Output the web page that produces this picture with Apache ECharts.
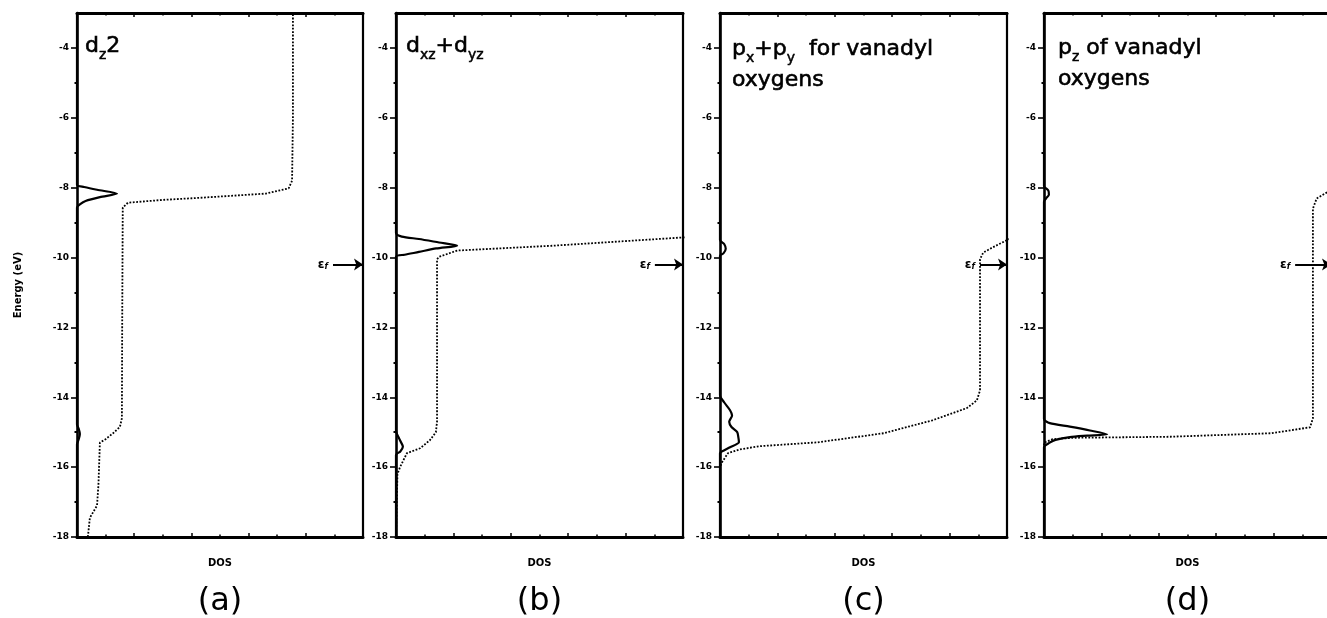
<!DOCTYPE html>
<html><head><meta charset="utf-8">
<script src="https://cdn.jsdelivr.net/npm/echarts@6/dist/echarts.min.js"></script>
<style>html,body{margin:0;padding:0;background:#fff}#c{width:1327px;height:618px}</style>
</head><body><div id="c"></div>
<script>
// ---- data ----
const energyMin = -18, energyMax = -3;
const dosMin = 0, dosMax = 10;
const yMajorTicks = [-18, -16, -14, -12, -10, -8, -6, -4];
const yMinorTicks = [-17, -15, -13, -11, -9, -7, -5];
const fermiEnergy = -10.2;
const fermiArrowStart = [8.95, 9.02, 9.06, 8.75];
const panelLetters = ['(a)', '(b)', '(c)', '(d)'];
const panelTitles = [
  '{n|d}{s|z}{n|2}',
  '{n|d}{s|xz}{n|+d}{s|yz}',
  '{n|p}{s|x}{n|+p}{s|y}{n|  for vanadyl}\n{n|oxygens}',
  '{n|p}{s|z}{n| of vanadyl}\n{n|oxygens}'
];
const xAxisName = 'DOS';
const yAxisName = 'Energy (eV)';

// [DOS, energy] pairs: solid = projected DOS, dotted = integrated DOS
const aSolid = [[0,-18],[0,-15.35],[0.06,-15.2],[0.1,-15.05],[0.06,-14.9],[0,-14.78],[0,-8.57],[0.1,-8.48],[0.3,-8.38],[0.8,-8.27],[1.4,-8.17],[0.7,-8.06],[0.25,-7.98],[0,-7.92],[0,-3]];
const aDotted = [[0.38,-18],[0.45,-17.45],[0.7,-17.1],[0.75,-16.5],[0.8,-15.3],[1.0,-15.2],[1.26,-15.03],[1.5,-14.85],[1.57,-14.6],[1.58,-12],[1.6,-8.57],[1.78,-8.43],[3.0,-8.35],[4.3,-8.29],[6.6,-8.17],[7.4,-8.02],[7.52,-7.8],[7.55,-6],[7.55,-3]];
const bSolid = [[0,-18],[0,-15.65],[0.15,-15.55],[0.24,-15.42],[0.12,-15.2],[0,-14.95],[0,-9.98],[0.3,-9.92],[0.8,-9.84],[1.4,-9.74],[2.13,-9.66],[1.5,-9.57],[0.8,-9.47],[0.2,-9.4],[0,-9.3],[0,-3]];
const bDotted = [[0,-18],[0.05,-16.2],[0.14,-16.0],[0.38,-15.6],[0.84,-15.46],[1.18,-15.23],[1.39,-15.0],[1.43,-14.7],[1.43,-10.05],[1.5,-9.98],[1.64,-9.94],[2.13,-9.8],[5.5,-9.66],[9.9,-9.43],[10.2,-9.42]];
const cSolid = [[0,-18],[0,-15.6],[0.07,-15.55],[0.35,-15.43],[0.66,-15.29],[0.64,-15.15],[0.6,-15.0],[0.4,-14.85],[0.32,-14.7],[0.42,-14.52],[0.35,-14.37],[0.15,-14.15],[0,-13.94],[0,-9.95],[0.12,-9.88],[0.2,-9.75],[0.15,-9.62],[0,-9.5],[0,-3]];
const cDotted = [[0,-18],[0,-16.0],[0.07,-15.86],[0.28,-15.6],[0.7,-15.49],[1.4,-15.4],[3.4,-15.29],[5.7,-15.03],[7.4,-14.66],[8.6,-14.31],[8.95,-14.09],[9.06,-13.8],[9.06,-10.05],[9.17,-9.86],[9.5,-9.71],[10,-9.5],[10.3,-9.4]];
const dSolid = [[0,-18],[0,-15.43],[0.2,-15.3],[0.4,-15.22],[0.9,-15.14],[1.5,-15.1],[2.2,-15.06],[1.6,-14.95],[0.9,-14.84],[0.2,-14.74],[0,-14.62],[0,-8.4],[0.08,-8.3],[0.17,-8.2],[0.15,-8.08],[0,-7.95],[0,-3]];
const dDotted = [[0,-18],[0,-15.3],[0.3,-15.2],[1.0,-15.16],[2.2,-15.15],[4.4,-15.13],[7.9,-15.03],[9.27,-14.86],[9.37,-14.6],[9.37,-8.6],[9.5,-8.31],[9.85,-8.14],[10.2,-8.05]];

const solidSets = [aSolid, bSolid, cSolid, dSolid];
const dottedSets = [aDotted, bDotted, cDotted, dDotted];

// ---- layout ----
const gridLefts = [77, 396, 720, 1044];
const gridWidths = [286, 287, 287, 287];
const gridTop = 13, gridHeight = 524;
const titleLefts = [85, 406, 732, 1058];
const titleTops = [31, 31, 34, 33];
const FONT = 'DejaVu Sans';

const grid = [], xAxis = [], yAxis = [], series = [], title = [];
for (let i = 0; i < 4; i++) {
  grid.push({left: gridLefts[i], top: gridTop, width: gridWidths[i], height: gridHeight, containLabel: false, outerBoundsMode: 'none'});
  const xBase = {
    gridIndex: i, type: 'value', min: dosMin, max: dosMax, interval: 2,
    axisLabel: {show: false}, splitLine: {show: false},
    axisTick: {show: true, inside: true, length: 4, lineStyle: {color: '#000', width: 1.5}},
    minorTick: {show: true, splitNumber: 2, length: 2.5, lineStyle: {color: '#000', width: 1.5}},
    axisLine: {onZero: false, lineStyle: {color: '#000', width: 3}}
  };
  xAxis.push(Object.assign({}, xBase, {
    position: 'bottom', name: xAxisName, nameLocation: 'middle', nameGap: 21,
    nameTextStyle: {fontFamily: FONT, fontSize: 10, fontWeight: 'bold', color: '#000'}
  }));
  xAxis.push(Object.assign({}, xBase, {position: 'top'}));
  yAxis.push({
    gridIndex: i, type: 'value', min: energyMin, max: energyMax, position: 'left',
    splitLine: {show: false},
    axisLine: {onZero: false, lineStyle: {color: '#000', width: 2.6}},
    axisTick: {show: true, inside: false, length: 6, customValues: yMajorTicks, lineStyle: {color: '#000', width: 1.6}},
    axisLabel: {show: true, customValues: yMajorTicks, margin: 8, fontFamily: FONT, fontSize: 9, fontWeight: 'bold', color: '#000'},
    name: i === 0 ? yAxisName : '', nameLocation: 'middle', nameRotate: 90, nameGap: 54,
    nameTextStyle: {fontFamily: FONT, fontSize: 10, fontWeight: 'bold', color: '#000', padding: [0, 20, 0, 0]}
  });
  yAxis.push({
    gridIndex: i, type: 'value', min: energyMin, max: energyMax, position: 'left',
    splitLine: {show: false}, axisLine: {show: false}, axisLabel: {show: false},
    axisTick: {show: true, inside: false, length: 2.5, customValues: yMinorTicks, lineStyle: {color: '#000', width: 2}}
  });
  yAxis.push({
    gridIndex: i, type: 'value', min: energyMin, max: energyMax, position: 'right',
    splitLine: {show: false}, axisLabel: {show: false}, axisTick: {show: false},
    axisLine: {onZero: false, lineStyle: {color: '#000', width: 2.2}}
  });
  series.push({
    type: 'line', xAxisIndex: 2 * i, yAxisIndex: 3 * i, data: solidSets[i],
    symbol: 'none', smooth: 0.25, clip: true, z: 4,
    lineStyle: {color: '#000', width: 2.2}
  });
  series.push({
    type: 'line', xAxisIndex: 2 * i, yAxisIndex: 3 * i, data: dottedSets[i],
    symbol: 'none', smooth: false, clip: true, z: 3,
    lineStyle: {color: '#000', width: 1.8, type: [1.8, 1.6]},
    markLine: {
      silent: true, symbol: ['none', 'arrow'], symbolSize: 9, animation: false,
      lineStyle: {color: '#000', width: 2, type: 'solid'},
      label: {show: true, position: 'start', distance: 5, formatter: '{e|ε}{f|f}',
        rich: {e: {fontFamily: FONT, fontSize: 12, fontWeight: 'bold', color: '#000'},
               f: {fontFamily: FONT, fontSize: 8, fontStyle: 'italic', fontWeight: 'bold', color: '#000', verticalAlign: 'bottom', lineHeight: 8}}},
      emphasis: {disabled: true},
      data: [[{coord: [fermiArrowStart[i], fermiEnergy]}, {coord: [dosMax, fermiEnergy]}]]
    }
  });
  title.push({
    text: panelTitles[i], left: titleLefts[i], top: titleTops[i], padding: 0,
    textStyle: {fontWeight: 'normal', rich: {
      n: {fontFamily: FONT, fontSize: 22, fontWeight: 'normal', lineHeight: 31, color: '#000', textBorderColor: '#000', textBorderWidth: 0.6},
      s: {fontFamily: FONT, fontSize: 14, fontWeight: 'normal', lineHeight: 14, verticalAlign: 'bottom', color: '#000', textBorderColor: '#000', textBorderWidth: 0.5}
    }}
  });
  title.push({
    text: panelLetters[i], left: gridLefts[i] + gridWidths[i] / 2, textAlign: 'center', top: 586, padding: 0,
    textStyle: {fontFamily: FONT, fontSize: 32, fontWeight: 'normal', color: '#000'}
  });
}

const chart = echarts.init(document.getElementById('c'), null, {renderer: 'canvas'});
chart.setOption({animation: false, backgroundColor: '#fff', title, grid, xAxis, yAxis, series});
</script></body></html>
